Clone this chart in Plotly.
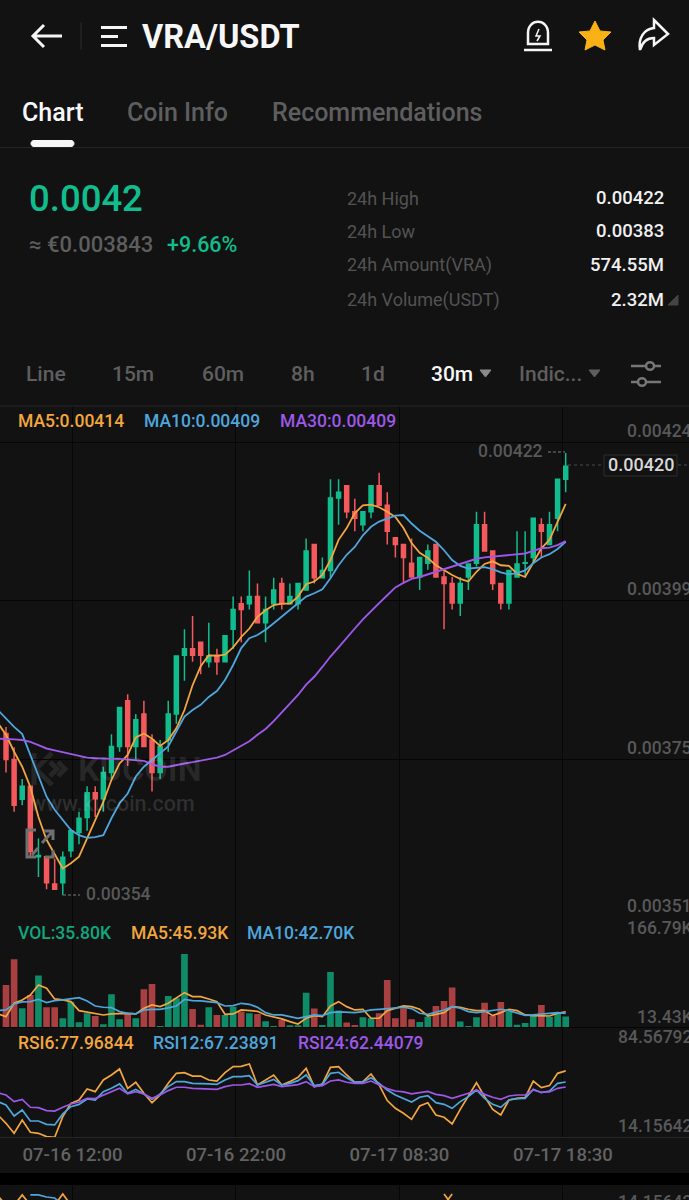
import plotly.graph_objects as go

W = 689
H = 1200

BG = "#121213"
GRID = "#060606"
GREEN = "#11bd8d"
RED = "#f4595c"
VOL_GREEN = "#0f8b67"
VOL_RED = "#a83f41"
ORANGE = "#f2a63f"
BLUE = "#4fa6dc"
PURPLE = "#9c58e6"
DIM = "#5e5e5e"
AXIS_TXT = "#585858"

# candle values
OPEN = [0.003793, 0.003753, 0.003692, 0.003712, 0.003604, 0.003604, 0.003562, 0.003564, 0.003613, 0.003641,
        0.003664, 0.003702, 0.003693, 0.003733, 0.003773, 0.003843, 0.003773, 0.003823, 0.003783, 0.003733,
        0.003783, 0.003823, 0.003913, 0.003923, 0.003933, 0.003903, 0.003913, 0.003903, 0.003953, 0.003992,
        0.003992, 0.004003, 0.003963, 0.003992, 0.004023, 0.003992, 0.003992, 0.004013, 0.004083, 0.004032,
        0.004043, 0.004154, 0.004173, 0.004133, 0.004113, 0.004133, 0.004173, 0.004143, 0.004093, 0.004083,
        0.004054, 0.004033, 0.004054, 0.004083, 0.004033, 0.004023, 0.003993, 0.004033, 0.004054, 0.004113,
        0.004073, 0.004023, 0.003993, 0.004033, 0.004054, 0.004063, 0.004113, 0.004083, 0.004123, 0.004183]
HIGH = [0.003803, 0.003772, 0.003723, 0.003712, 0.003632, 0.003604, 0.003601, 0.003612, 0.003647, 0.003673,
        0.003712, 0.003712, 0.003742, 0.003792, 0.003833, 0.003853, 0.003823, 0.003843, 0.003792, 0.003783,
        0.003843, 0.003912, 0.003953, 0.003973, 0.003933, 0.003963, 0.003923, 0.003943, 0.004003, 0.004003,
        0.004043, 0.004023, 0.004003, 0.004032, 0.004032, 0.004023, 0.004023, 0.004092, 0.004083, 0.004063,
        0.004183, 0.004183, 0.004173, 0.004153, 0.004133, 0.004173, 0.004193, 0.004163, 0.004093, 0.004083,
        0.004092, 0.004063, 0.004083, 0.004083, 0.004044, 0.004033, 0.004033, 0.004054, 0.004133, 0.004133,
        0.004073, 0.004023, 0.004043, 0.004103, 0.004103, 0.004123, 0.004123, 0.004133, 0.004183, 0.004223]
LOW = [0.003733, 0.003673, 0.003683, 0.003604, 0.003573, 0.003554, 0.003554, 0.003545, 0.003603, 0.003623,
       0.003644, 0.003665, 0.003673, 0.003724, 0.003765, 0.003743, 0.003753, 0.003773, 0.003704, 0.003723,
       0.003765, 0.003808, 0.003874, 0.003903, 0.003884, 0.003894, 0.003883, 0.003903, 0.003923, 0.003933,
       0.003983, 0.003963, 0.003933, 0.003983, 0.003983, 0.003992, 0.003983, 0.004013, 0.004023, 0.004032,
       0.004032, 0.004113, 0.004123, 0.004103, 0.004103, 0.004123, 0.004143, 0.004083, 0.004063, 0.004023,
       0.004033, 0.004013, 0.004044, 0.004033, 0.003953, 0.003983, 0.003973, 0.004013, 0.004049, 0.004073,
       0.004013, 0.003983, 0.003983, 0.004033, 0.004033, 0.004054, 0.004063, 0.004083, 0.004103, 0.004163]
CLOSE = [0.003753, 0.003683, 0.003712, 0.003612, 0.003606, 0.003564, 0.003554, 0.003603, 0.003644, 0.003663,
         0.003702, 0.003693, 0.003733, 0.003773, 0.003833, 0.003773, 0.003814, 0.003773, 0.003733, 0.003773,
         0.003823, 0.003912, 0.003923, 0.003913, 0.003913, 0.003912, 0.003903, 0.003943, 0.003983, 0.003983,
         0.004003, 0.003963, 0.003983, 0.004013, 0.003992, 0.004003, 0.004023, 0.004073, 0.004032, 0.004043,
         0.004154, 0.004163, 0.004133, 0.004123, 0.004133, 0.004173, 0.004143, 0.004103, 0.004083, 0.004063,
         0.004033, 0.004063, 0.004073, 0.004033, 0.004023, 0.003993, 0.004023, 0.004053, 0.004113, 0.004073,
         0.004023, 0.003993, 0.004043, 0.004053, 0.004055, 0.004123, 0.004103, 0.004113, 0.004183, 0.004203]

MA5 = [0.003809, 0.003791, 0.003765, 0.003742, 0.003711, 0.003665, 0.003630, 0.003607, 0.003586, 0.003594, 0.003604,
       0.003632, 0.003660, 0.003688, 0.003722, 0.003747, 0.003760, 0.003787, 0.003793, 0.003785, 0.003774,
       0.003783, 0.003801, 0.003829, 0.003867, 0.003896, 0.003913, 0.003912, 0.003914, 0.003925, 0.003941,
       0.003954, 0.003972, 0.003982, 0.003990, 0.003992, 0.003992, 0.004003, 0.004022, 0.004026, 0.004036,
       0.004059, 0.004090, 0.004108, 0.004131, 0.004143, 0.004144, 0.004140, 0.004133, 0.004125, 0.004108,
       0.004085, 0.004070, 0.004062, 0.004051, 0.004043, 0.004036, 0.004030, 0.004026, 0.004041, 0.004053,
       0.004057, 0.004051, 0.004050, 0.004038, 0.004033, 0.004054, 0.004077, 0.004090, 0.004118, 0.004145]
MA10 = [0.003829, 0.003816, 0.003803, 0.003792, 0.003760, 0.003727, 0.003696, 0.003676, 0.003660, 0.003645, 0.003637,
        0.003633, 0.003634, 0.003637, 0.003663, 0.003686, 0.003701, 0.003727, 0.003742, 0.003752, 0.003762,
        0.003773, 0.003796, 0.003819, 0.003829, 0.003837, 0.003849, 0.003858, 0.003875, 0.003898, 0.003924,
        0.003939, 0.003944, 0.003952, 0.003962, 0.003972, 0.003982, 0.003993, 0.004003, 0.004008, 0.004014,
        0.004031, 0.004051, 0.004067, 0.004079, 0.004097, 0.004110, 0.004118, 0.004122, 0.004127, 0.004128,
        0.004115, 0.004104, 0.004096, 0.004087, 0.004074, 0.004059, 0.004050, 0.004046, 0.004047, 0.004048,
        0.004045, 0.004040, 0.004037, 0.004039, 0.004043, 0.004054, 0.004063, 0.004068, 0.004076, 0.004087]
MA30 = [0.003785, 0.003785, 0.003784, 0.003783, 0.003780, 0.003775, 0.003770, 0.003767, 0.003764, 0.003761, 0.003759,
        0.003756, 0.003755, 0.003754, 0.003754, 0.003754, 0.003753, 0.003753, 0.003751, 0.003746, 0.003742,
        0.003742, 0.003745, 0.003747, 0.003749, 0.003751, 0.003753, 0.003756, 0.003760, 0.003767, 0.003774,
        0.003781, 0.003791, 0.003800, 0.003812, 0.003825, 0.003838, 0.003852, 0.003868, 0.003880, 0.003895,
        0.003911, 0.003925, 0.003940, 0.003954, 0.003968, 0.003981, 0.003993, 0.004005, 0.004017, 0.004024,
        0.004030, 0.004033, 0.004037, 0.004041, 0.004045, 0.004048, 0.004052, 0.004056, 0.004061, 0.004063,
        0.004064, 0.004065, 0.004067, 0.004068, 0.004069, 0.004073, 0.004077, 0.004078, 0.004082, 0.004088]

# volume in thousands
VOL = [101.9, 155.6, 53.2, 81.0, 121.5, 55.3, 55.3, 32.3, 67.1, 23.9,
       42.7, 37.1, 19.7, 82.4, 30.2, 41.3, 32.3, 92.9, 104.0, 16.2,
       78.9, 74.1, 166.79, 51.8, 19.0, 55.3, 39.2, 39.2, 56.6, 46.2,
       42.7, 41.3, 26.0, 16.2, 28.8, 17.6, 17.6, 85.9, 52.5, 18.3,
       129.1, 48.3, 23.2, 18.3, 34.3, 32.3, 42.7, 112.4, 32.3, 53.2,
       30.2, 24.6, 35.7, 58.0, 68.5, 96.4, 25.3, 16.2, 34.3, 65.0,
       37.1, 66.4, 46.2, 19.0, 22.5, 39.2, 60.1, 35.7, 42.7, 35.8]
VOL_MA5 = [41.3, 35.7, 63.6, 70.6, 81.0, 101.9, 95.0, 72.7, 70.6, 67.1, 48.3,
           44.8, 41.3, 39.2, 41.3, 42.7, 42.7, 41.3, 53.2, 60.1, 56.6,
           63.6, 74.1, 85.9, 77.6, 77.6, 72.7, 67.1, 40.6, 41.3, 49.7,
           47.6, 46.9, 39.2, 35.7, 30.9, 25.3, 20.4, 32.3, 37.8, 35.7,
           58.0, 67.1, 56.6, 49.7, 51.1, 32.3, 32.3, 48.3, 53.2, 58.0,
           56.6, 51.1, 37.1, 41.3, 44.1, 56.6, 55.3, 51.1, 48.3, 48.3,
           37.8, 44.1, 51.1, 48.3, 39.2, 37.8, 37.1, 37.1, 42.7, 45.93]
VOL_MA10 = [48.3, 49.7, 62.2, 66.4, 67.1, 72.0, 65.0, 69.2, 70.6, 73.4, 75.5,
            68.5, 58.0, 55.3, 54.6, 46.2, 42.7, 41.3, 49.7, 51.1, 51.1,
            53.9, 58.0, 72.0, 69.2, 68.5, 67.1, 65.0, 58.0, 58.7, 63.6,
            61.5, 55.3, 44.1, 39.2, 39.2, 35.7, 32.3, 35.7, 39.2, 37.8,
            44.1, 45.5, 44.1, 44.1, 46.2, 49.7, 51.1, 52.5, 52.5, 55.3,
            52.5, 42.7, 40.6, 44.8, 49.7, 56.6, 53.2, 46.2, 44.1, 46.2,
            48.3, 51.1, 48.3, 42.7, 38.5, 39.2, 41.3, 42.7, 44.1, 42.7]

RSI6 = [35.6, 27.6, 18.0, 30.8, 19.0, 18.0, 14.8, 14.2, 34.0, 46.8, 50.0,
        60.6, 58.0, 69.2, 74.0, 79.8, 61.2, 67.0, 56.4, 47.4, 54.8,
        66.0, 75.6, 76.2, 73.0, 73.0, 69.2, 68.2, 76.2, 82.0, 82.3,
        84.57, 64.4, 69.2, 74.0, 64.4, 67.6, 71.8, 80.4, 62.8, 65.4,
        81.4, 82.0, 74.0, 67.0, 67.6, 75.0, 64.4, 49.4, 42.0, 37.2,
        31.4, 44.2, 47.4, 35.6, 33.4, 27.0, 41.0, 53.2, 66.6, 53.2,
        41.0, 35.6, 50.0, 51.6, 52.2, 68.2, 61.8, 63.8, 75.6, 77.97]
RSI12 = [48.4, 45.2, 34.6, 40.4, 29.8, 29.8, 26.6, 26.0, 36.6, 43.6, 45.8,
         51.0, 50.0, 58.0, 61.2, 65.4, 56.4, 60.2, 55.8, 50.6, 55.8,
         62.8, 67.6, 67.6, 66.0, 66.0, 65.4, 65.0, 69.2, 72.4, 72.4,
         73.4, 64.4, 67.0, 69.8, 64.4, 66.0, 68.6, 74.0, 63.8, 65.0,
         75.6, 76.6, 71.4, 67.0, 67.3, 71.4, 66.0, 59.6, 54.8, 51.6,
         48.1, 52.6, 54.2, 47.4, 45.8, 42.0, 48.4, 53.2, 59.6, 51.6,
         45.8, 43.0, 50.0, 51.3, 51.6, 60.2, 57.0, 58.6, 66.0, 67.24]
RSI24 = [57.0, 54.8, 48.4, 50.6, 43.0, 42.6, 39.8, 39.4, 43.0, 46.2, 48.1,
         51.6, 51.3, 54.8, 58.0, 61.2, 55.8, 58.0, 55.8, 51.6, 54.8,
         59.0, 62.2, 62.2, 61.2, 60.9, 60.6, 60.2, 62.8, 64.4, 64.4,
         65.7, 62.2, 63.4, 65.0, 62.8, 63.8, 64.7, 67.6, 62.8, 63.8,
         68.2, 69.2, 67.0, 66.0, 66.0, 68.2, 64.7, 60.9, 58.6, 57.7,
         55.8, 57.4, 58.3, 55.4, 54.2, 51.6, 53.8, 56.4, 59.6, 55.4,
         52.6, 50.6, 53.8, 54.8, 54.8, 59.6, 57.4, 57.7, 61.2, 62.44]

# the next indicator panel, only its top few pixels are on screen
NEXT_X1 = [-1, 0, None, 1, 2, 3, None, 6, 7, 8, None, 54, 55]
NEXT_Y1 = [85.3, 73.3, None, 73.3, 86.7, 73.3, None, 73.3, 88.0, 73.3, None, 88.0, 73.3]
NEXT_X2 = [54, 55]
NEXT_Y2 = [73.3, 88.0]
NEXT_X3 = [3, 4, 5, 6, 7]
NEXT_Y3 = [86.7, 86.7, 84.0, 82.7, 73.3]

TIME_LABELS = ["07-16 12:00", "07-16 22:00", "07-17 08:30", "07-17 18:30"]
TIME_TICKS = [8.2, 28.35, 48.5, 68.65]
PRICE_TICKS = [0.00424, 0.003997, 0.003753, 0.00351]
PRICE_LABELS = ["0.00424", "0.00399", "0.00375", "0.00351"]

candle_x = list(range(len(CLOSE)))
line_x = list(range(-1, len(CLOSE)))
vol_colors = [VOL_GREEN if c >= o else VOL_RED for o, c in zip(OPEN, CLOSE)]


def dom(top, bottom):
    return [1 - bottom / H, 1 - top / H]


def txt(s, x, y, size, color, anchor="left", weight=500):
    return dict(text=s, x=x / W, y=1 - y / H, xref="paper", yref="paper", xanchor=anchor, yanchor="middle",
                showarrow=False, font=dict(size=size, color=color, weight=weight), borderpad=0, borderwidth=0)


def px_path(d):
    out = []
    for tok in d.split():
        if "," in tok:
            a, b = tok.split(",")
            out.append(f"{float(a) / W:.5f},{1 - float(b) / H:.5f}")
        else:
            out.append(tok)
    return " ".join(out)


def outline(d, color="#f5f5f5", width=3):
    return dict(type="path", path=px_path(d), xref="paper", yref="paper", line=dict(color=color, width=width))


def filled(d, color):
    return dict(type="path", path=px_path(d), xref="paper", yref="paper", fillcolor=color, line=dict(color=color, width=1))


def hline(y, x0, x1, color, width=1, dash="solid"):
    return dict(type="line", xref="paper", yref="paper", x0=x0 / W, x1=x1 / W, y0=1 - y / H, y1=1 - y / H,
                line=dict(color=color, width=width, dash=dash))


fig = go.Figure()

# price panel
fig.add_trace(go.Candlestick(x=candle_x, open=OPEN, high=HIGH, low=LOW, close=CLOSE, whiskerwidth=0,
                             increasing=dict(line=dict(color=GREEN, width=1.5), fillcolor=GREEN),
                             decreasing=dict(line=dict(color=RED, width=1.5), fillcolor=RED),
                             showlegend=False, hoverinfo="skip"))
fig.add_trace(go.Scatter(x=line_x, y=MA5, mode="lines", line=dict(color=ORANGE, width=1.8), hoverinfo="skip"))
fig.add_trace(go.Scatter(x=line_x, y=MA10, mode="lines", line=dict(color=BLUE, width=1.8), hoverinfo="skip"))
fig.add_trace(go.Scatter(x=line_x, y=MA30, mode="lines", line=dict(color=PURPLE, width=1.9), hoverinfo="skip"))

# volume panel
fig.add_trace(go.Bar(x=candle_x, y=VOL, marker=dict(color=vol_colors, line=dict(width=0)), width=0.82,
                     xaxis="x2", yaxis="y2", hoverinfo="skip"))
fig.add_trace(go.Scatter(x=line_x, y=VOL_MA5, mode="lines", line=dict(color=ORANGE, width=1.7),
                         xaxis="x2", yaxis="y2", hoverinfo="skip"))
fig.add_trace(go.Scatter(x=line_x, y=VOL_MA10, mode="lines", line=dict(color=BLUE, width=1.7),
                         xaxis="x2", yaxis="y2", hoverinfo="skip"))

# rsi panel
fig.add_trace(go.Scatter(x=line_x, y=RSI6, mode="lines", line=dict(color=ORANGE, width=1.7),
                         xaxis="x3", yaxis="y3", hoverinfo="skip"))
fig.add_trace(go.Scatter(x=line_x, y=RSI12, mode="lines", line=dict(color=BLUE, width=1.7),
                         xaxis="x3", yaxis="y3", hoverinfo="skip"))
fig.add_trace(go.Scatter(x=line_x, y=RSI24, mode="lines", line=dict(color=PURPLE, width=1.7),
                         xaxis="x3", yaxis="y3", hoverinfo="skip"))

# cut off panel at the bottom of the screen
fig.add_trace(go.Scatter(x=NEXT_X1, y=NEXT_Y1, mode="lines", line=dict(color=ORANGE, width=1.7),
                         xaxis="x4", yaxis="y4", hoverinfo="skip"))
fig.add_trace(go.Scatter(x=NEXT_X2, y=NEXT_Y2, mode="lines", line=dict(color=ORANGE, width=1.7),
                         xaxis="x4", yaxis="y4", hoverinfo="skip"))
fig.add_trace(go.Scatter(x=NEXT_X3, y=NEXT_Y3, mode="lines", line=dict(color=BLUE, width=1.7),
                         xaxis="x4", yaxis="y4", hoverinfo="skip"))

xrange = [-0.74, 84.2]
xbase = dict(range=xrange, tickmode="array", tickvals=TIME_TICKS, showgrid=True, gridcolor=GRID, gridwidth=1,
             showline=False, zeroline=False, ticks="", showticklabels=False, fixedrange=True)

labels = []
# header
labels.append(txt("<b>VRA/USDT</b>", 142, 37, 32.5, "#f7f7f7"))
labels.append(txt("Chart", 22, 112, 25, "#f7f7f7"))
labels.append(txt("Coin Info", 127, 112, 25, DIM))
labels.append(txt("Recommendations", 272, 112, 25, DIM))
labels.append(txt("0.0042", 29, 199, 36.5, GREEN))
labels.append(txt("≈ €0.003843", 29, 245, 22, DIM))
labels.append(txt("+9.66%", 167, 245, 21.5, GREEN))
for s, y in zip(["24h High", "24h Low", "24h Amount(VRA)", "24h Volume(USDT)"], [198, 231, 265, 300]):
    labels.append(txt(s, 347, y, 18, "#525252", weight=400))
for s, y in zip(["0.00422", "0.00383", "574.55M", "2.32M"], [198, 231, 265, 300]):
    labels.append(txt(s, 664, y, 18.5, "#f0f0f0", "right"))
for s, x in zip(["Line", "15m", "60m", "8h", "1d"], [26, 112, 202, 291, 361]):
    labels.append(txt(s, x, 374, 21, DIM))
labels.append(txt("30m", 431, 374, 21, "#f7f7f7"))
labels.append(txt("Indic...", 519, 374, 21, DIM))

# panel legends
labels.append(txt("MA5:0.00414", 18, 421, 17.5, ORANGE))
labels.append(txt("MA10:0.00409", 144, 421, 17.5, BLUE))
labels.append(txt("MA30:0.00409", 280, 421, 17.5, PURPLE))
labels.append(txt("VOL:35.80K", 18, 933, 17.5, "#12a67e"))
labels.append(txt("MA5:45.93K", 131, 933, 17.5, ORANGE))
labels.append(txt("MA10:42.70K", 247, 933, 17.5, BLUE))
labels.append(txt("RSI6:77.96844", 18, 1043, 17.5, ORANGE))
labels.append(txt("RSI12:67.23891", 153, 1043, 17.5, BLUE))
labels.append(txt("RSI24:62.44079", 298, 1043, 17.5, PURPLE))

# right side values
for s, y in zip(PRICE_LABELS, [431, 589, 748, 906]):
    labels.append(txt(s, 627, y, 17.5, AXIS_TXT))
labels.append(txt("166.79K", 627, 928, 17.5, AXIS_TXT))
labels.append(txt("13.43K", 637, 1017, 17.5, AXIS_TXT))
labels.append(txt("84.56792", 618, 1037, 17.5, AXIS_TXT))
labels.append(txt("14.15642", 618, 1126, 17.5, AXIS_TXT))
labels.append(txt("14.15642", 618, 1202, 17.5, AXIS_TXT))

# high, low and last price marks
labels.append(txt("0.00422", 478, 451, 17.5, AXIS_TXT))
labels.append(txt("0.00354", 86, 894, 17.5, AXIS_TXT))
labels.append(txt("0.00420", 640.5, 465, 18, "#d8d8d8", "center"))

# watermark
labels.append(txt("<b>KUCOIN</b>", 78, 769, 34, "rgba(255,255,255,0.09)"))
labels.append(txt("www.kucoin.com", 30, 803, 21.5, "rgba(255,255,255,0.13)"))

fig.update_layout(annotations=labels)

shapes = []
# header icons
shapes.append(outline("M 62,36 L 33,36 M 44,25 L 33,36 L 44,47"))
shapes.append(dict(type="line", xref="paper", yref="paper", x0=81 / W, x1=81 / W, y0=1 - 22 / H, y1=1 - 50 / H,
                   line=dict(color="#2a2a2a", width=1)))
shapes.append(outline("M 101,27.5 L 127,27.5 M 101,36.5 L 118,36.5 M 101,45.5 L 127,45.5"))
shapes.append(outline("M 528,44 L 528,33 C 528,18 548,18 548,33 L 548,44 Z M 524,50 L 552,50", width=2.5))
shapes.append(outline("M 539,29 L 536,36 L 540,36 L 537,41", width=1.5))
shapes.append(filled("M 595,21 L 600,31 L 611,32 L 603,40 L 605,50 L 595,45 L 585,50 L 587,40 L 579,32 L 590,31 Z", "#f9b115"))
shapes.append(outline("M 654,20 L 668,34 L 654,45 L 654,38 C 646,38 642,43 640,50 C 638,38 644,29 654,28 Z", width=2.5))
# tab underline and separators
shapes.append(filled("M 34,140.5 L 71,140.5 C 75,140.5 75,146.5 71,146.5 L 34,146.5 C 30,146.5 30,140.5 34,140.5 Z", "#f7f7f7"))
shapes.append(hline(147.5, 0, 689, "#242424"))
shapes.append(filled("M 668,305 L 678,305 L 678,295 Z", "#444444"))
# drop arrows
shapes.append(filled("M 480,370 L 491,370 L 485.5,377 Z", "#8a8a8a"))
shapes.append(filled("M 589,370 L 600,370 L 594.5,377 Z", DIM))
# slider icon
shapes.append(outline("M 631,366 L 645,366 M 655,366 L 661,366 M 631,382 L 637,382 M 647,382 L 661,382", "#777777", 2.5))
shapes.append(outline("M 646,366 C 646,361 654,361 654,366 C 654,371 646,371 646,366 Z", "#777777", 2.5))
shapes.append(outline("M 638,382 C 638,377 646,377 646,382 C 646,387 638,387 638,382 Z", "#777777", 2.5))
# panel borders
shapes.append(hline(406, 0, 689, "#262626"))
shapes.append(hline(1027.5, 0, 689, GRID))
shapes.append(hline(1137.5, 0, 689, "#262626"))
shapes.append(dict(type="rect", xref="paper", yref="paper", x0=0, x1=1, y0=1 - 1185 / H, y1=1 - 1173 / H,
                   fillcolor="#000000", line=dict(width=0)))
# dashes at the high and low marks
shapes.append(hline(452, 548, 565, AXIS_TXT, 1.5, "3px,2px"))
shapes.append(hline(895, 63, 80, AXIS_TXT, 1.5, "3px,2px"))
# last price tag
shapes.append(hline(465, 568, 604, "#4a4a4a", 1, "dot"))
shapes.append(hline(465, 678, 689, "#4a4a4a", 1, "dot"))
shapes.append(dict(type="rect", xref="paper", yref="paper", x0=604 / W, x1=677 / W, y0=1 - 476 / H, y1=1 - 455 / H,
                   fillcolor=BG, line=dict(color="#2e2e2e", width=1)))
# watermark logo, below the candles
shapes.append(dict(type="path", layer="below", xref="paper", yref="paper",
                   path=px_path("M 34,753 L 34,785 M 36,769 L 52,753 M 36,769 L 52,785 M 50,762 L 57,769 L 50,776 M 58,762 L 65,769 L 58,776"),
                   line=dict(color="#262626", width=5)))
# expand icon on the chart
shapes.append(outline("M 36,830 L 27,830 L 27,857 L 36,857 M 42,843 L 52,832 M 44,831 L 53,831 L 53,840 M 32,855 L 38,848 M 45,857 L 53,857 L 53,850",
                      "#6f6f6f", 3))

fig.update_layout(
    shapes=shapes,
    width=W,
    height=H,
    margin=dict(l=0, r=0, t=0, b=0),
    paper_bgcolor=BG,
    plot_bgcolor=BG,
    showlegend=False,
    hovermode=False,
    dragmode=False,
    bargap=0.18,
    font=dict(family="Roboto", color=DIM),
    xaxis=dict(xbase, domain=[0, 1], anchor="y", rangeslider=dict(visible=False)),
    yaxis=dict(domain=dom(407, 918), range=[0.00351, 0.0042937], tickmode="array", tickvals=PRICE_TICKS,
               showgrid=True, gridcolor=GRID, zeroline=False, showticklabels=False, fixedrange=True),
    xaxis2=dict(xbase, domain=[0, 1], anchor="y2"),
    yaxis2=dict(domain=dom(918, 1027.5), range=[13.0, 242], showgrid=False, zeroline=False,
                showticklabels=False, fixedrange=True),
    xaxis3=dict(xbase, domain=[0, 1], anchor="y3", showticklabels=True, ticktext=TIME_LABELS,
                tickfont=dict(family="Roboto", size=18.5, color="#626262", weight=500), ticklen=0, tickcolor=BG,
                ticklabelstandoff=4),
    yaxis3=dict(domain=dom(1027.5, 1137.3), range=[14.16, 119.6], showgrid=False, zeroline=False,
                showticklabels=False, fixedrange=True),
    xaxis4=dict(xbase, domain=[0, 1], anchor="y4"),
    yaxis4=dict(domain=dom(1185, 1200), range=[80, 100], showgrid=False, zeroline=False,
                showticklabels=False, fixedrange=True),
)

fig.write_html("out.html", config=dict(displayModeBar=False, staticPlot=True),
               post_script="document.body.style.margin='0';document.documentElement.style.overflow='hidden';")
